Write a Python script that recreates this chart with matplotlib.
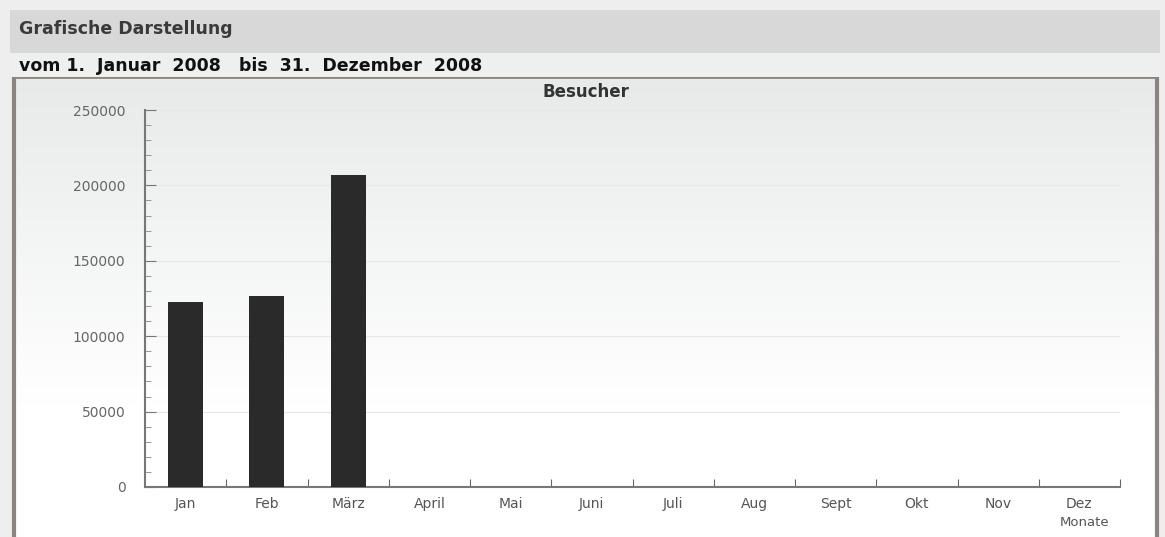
import numpy as np
import matplotlib.pyplot as plt
from matplotlib.patches import Rectangle
from matplotlib.ticker import MultipleLocator, FixedLocator

# Daten
monate = ['Jan', 'Feb', 'März', 'April', 'Mai', 'Juni', 'Juli', 'Aug', 'Sept', 'Okt', 'Nov', 'Dez']
besucher = [122700, 126700, 207000, 0, 0, 0, 0, 0, 0, 0, 0, 0]
y_ticks = [0, 50000, 100000, 150000, 200000, 250000]

W, H = 1165, 537


def fx(px):
    return px / W


def fy(py):
    return 1 - py / H


fig = plt.figure(figsize=(W / 100, H / 100), dpi=100)
fig.patch.set_facecolor('#eeeeee')

# Kopfzeile
fig.patches.append(Rectangle((fx(10), fy(53)), fx(1150), 43 / H, transform=fig.transFigure,
                             facecolor='#d9d8d8', edgecolor='none', zorder=0))
fig.patches.append(Rectangle((fx(10), fy(77)), fx(1150), 24 / H, transform=fig.transFigure,
                             facecolor='#eef0f0', edgecolor='none', zorder=0))
fig.text(fx(19), fy(29), 'Grafische Darstellung', fontsize=12.5, fontweight='bold',
         color='#3a3a3a', va='center', ha='left')
fig.text(fx(19), fy(66), 'vom 1.  Januar  2008   bis  31.  Dezember  2008', fontsize=12.5,
         fontweight='bold', color='#111111', va='center', ha='left')

# Rahmen mit Verlauf
bg = fig.add_axes([fx(14), 0, fx(1143), fy(77)], zorder=0)
grad = np.linspace(0, 1, 256).reshape(-1, 1)
grad = np.clip(grad * 1.4, 0, 1)
bg.imshow(grad, aspect='auto', cmap=plt.cm.colors.LinearSegmentedColormap.from_list(
    'g', ['#e8eaea', '#ffffff']), extent=[0, 1, 0, 1], origin='upper')
bg.set_xticks([])
bg.set_yticks([])
for s in bg.spines.values():
    s.set_color('#8c8480')
bg.spines['top'].set_linewidth(2)
bg.spines['left'].set_linewidth(3)
bg.spines['right'].set_linewidth(3)
bg.spines['bottom'].set_visible(False)

# Diagramm
ax = fig.add_axes([fx(145), fy(487), fx(1120 - 145), (487 - 110) / H], zorder=1)
ax.patch.set_alpha(0)
x = np.arange(len(monate)) + 0.5
ax.bar(x, besucher, width=0.43, color='#2a2a2a', zorder=3)

ax.set_xlim(0, 12)
ax.set_ylim(0, 250000)
ax.xaxis.set_major_locator(FixedLocator(np.arange(1, 13)))
ax.xaxis.set_minor_locator(FixedLocator(x))
ax.set_xticklabels([])
ax.set_xticklabels(monate, minor=True)
ax.tick_params(axis='x', which='major', direction='in', length=6, color='#666666')
ax.tick_params(axis='x', which='minor', length=0, labelsize=10, labelcolor='#555555', pad=7)

ax.set_yticks(y_ticks)
ax.yaxis.set_minor_locator(MultipleLocator(10000))
ax.tick_params(axis='y', which='major', direction='in', length=8, color='#777777',
               labelsize=10, labelcolor='#666666', pad=14)
ax.tick_params(axis='y', which='minor', direction='in', length=4, color='#888888')
ax.grid(axis='y', color='#e6e6e6', linewidth=0.8, zorder=0)

for s in ['top', 'right']:
    ax.spines[s].set_visible(False)
ax.spines['left'].set_color('#777777')
ax.spines['bottom'].set_color('#777777')
ax.spines['left'].set_linewidth(1.5)
ax.spines['bottom'].set_linewidth(1.5)

fig.text(fx(586), fy(92), 'Besucher', fontsize=12, fontweight='bold', color='#333333',
         ha='center', va='center')
fig.text(fx(1085), fy(522), 'Monate', fontsize=9.5, color='#555555', ha='center', va='center')

fig.savefig('out.png', dpi=100)
